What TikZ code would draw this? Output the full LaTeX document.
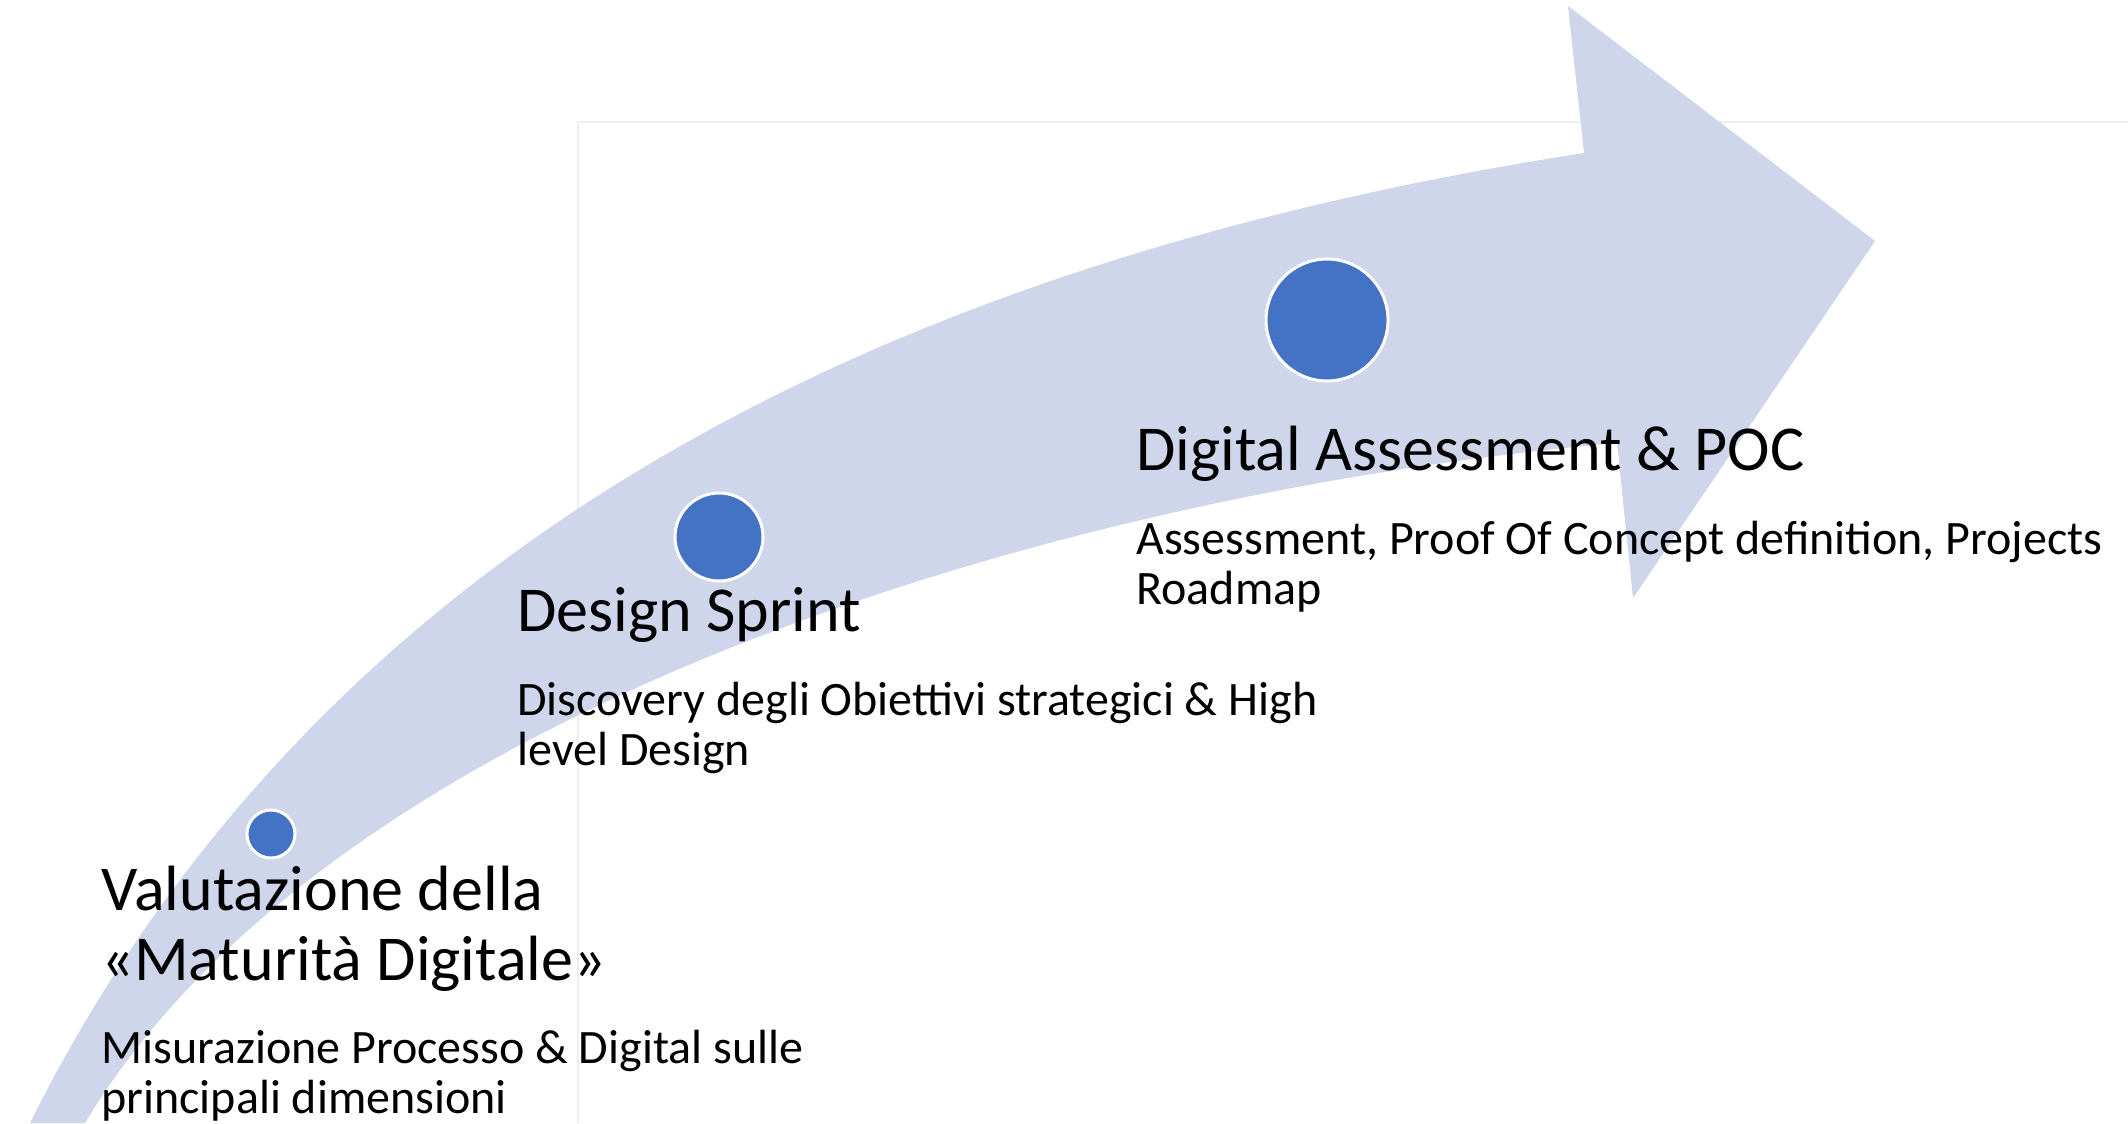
\documentclass[tikz,border=0pt]{standalone}
\usepackage{fontspec}
\setmainfont{Carlito}
\definecolor{arrowfill}{HTML}{CFD5EA}
\definecolor{dotfill}{HTML}{4472C4}
\definecolor{framegray}{HTML}{EFEFEF}

\begin{document}
\begin{tikzpicture}[x=0.5pt,y=-0.5pt,
    dot/.style={circle,fill=dotfill,draw=white,line width=1.5pt,inner sep=0pt},
    phase/.style={anchor=base west,inner sep=0pt,align=left,font=\fontsize{32}{35}\selectfont},
    detail/.style={anchor=base west,inner sep=0pt,align=left,font=\fontsize{24}{25}\selectfont}]
    \useasboundingbox (0,0) rectangle (2128,1123);
    \fill[white] (0,0) rectangle (2128,1123);
    % frame behind the arrow
    \draw[framegray,line width=1pt] (578,1123) -- (578,122) -- (2128,122);
    % curved arrow
    \fill[arrowfill] (30,1123) .. controls (340,503) and (954,251) .. (1584,153)
        -- (1568,6) -- (1875,241) -- (1633,598) -- (1617,443)
        .. controls (1067,491) and (335,706) .. (85,1123) -- cycle;
    % steps (base anchor = last line)
    \node[dot,minimum size=24pt] (c1) at (271,834) {};
    \node[dot,minimum size=44pt] (c2) at (719,537) {};
    \node[dot,minimum size=61pt] (c3) at (1327,320) {};
    \node[phase] (t1) at (101,980) {Valutazione della\\«Maturità Digitale»};
    \node[detail] (d1) at (101,1113) {Misurazione Processo \& Digital sulle\\principali dimensioni};
    \node[phase] (t2) at (517,631) {Design Sprint};
    \node[detail] (d2) at (517,765) {Discovery degli Obiettivi strategici \& High\\level Design};
    \node[phase] (t3) at (1136,470) {Digital Assessment \& POC};
    \node[detail] (d3) at (1136,604) {Assessment, Proof Of Concept definition, Projects\\Roadmap};
\end{tikzpicture}
\end{document}
